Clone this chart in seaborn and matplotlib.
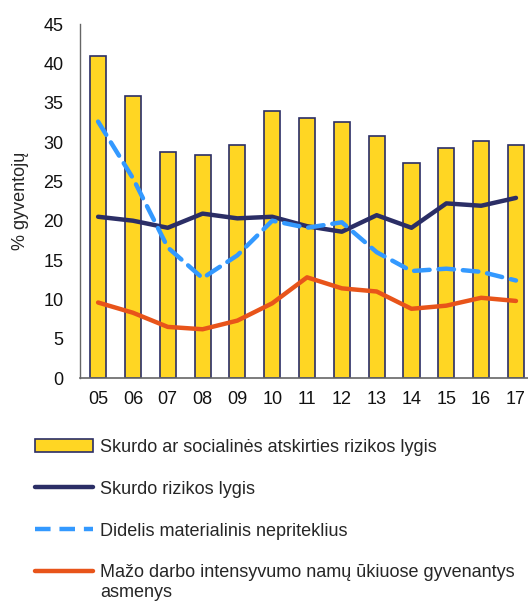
import matplotlib
matplotlib.use("Agg")
import matplotlib.pyplot as plt
import seaborn as sns
import pandas as pd
import numpy as np
from matplotlib.patches import Patch
from matplotlib.lines import Line2D

years = ["05", "06", "07", "08", "09", "10", "11", "12", "13", "14", "15", "16", "17"]
rizikos_atskirties = [41.0, 35.9, 28.7, 28.3, 29.6, 34.0, 33.1, 32.5, 30.8, 27.3, 29.3, 30.1, 29.6]
skurdo_rizikos = [20.5, 20.0, 19.1, 20.9, 20.3, 20.5, 19.3, 18.6, 20.7, 19.1, 22.2, 21.9, 22.9]
materialinis = [32.6, 25.4, 16.6, 12.7, 15.6, 20.0, 19.1, 19.8, 16.0, 13.6, 13.9, 13.5, 12.4]
mazo_darbo = [9.6, 8.3, 6.5, 6.2, 7.3, 9.5, 12.8, 11.4, 11.0, 8.8, 9.2, 10.2, 9.8]

labels = [
    "Skurdo ar socialinės atskirties rizikos lygis",
    "Skurdo rizikos lygis",
    "Didelis materialinis nepriteklius",
    "Mažo darbo intensyvumo namų ūkiuose gyvenantys",
]
label_cont = "asmenys"

yellow = "#FFD623"
navy = "#2B2E66"
lblue = "#3399FF"
orange = "#E8541A"

sns.set_style("white")
plt.rcParams["font.family"] = ["Liberation Sans", "DejaVu Sans"]

df = pd.DataFrame({"year": years, "val": rizikos_atskirties})
pos = np.arange(len(years))

fig = plt.figure(figsize=(5.28, 6.01), dpi=100)
ax = fig.add_axes([0.1515, 0.371, 0.86, 0.589])

sns.barplot(data=df, x="year", y="val", color=yellow, width=0.46,
            edgecolor=navy, linewidth=1.2, saturation=1, ax=ax)
sns.lineplot(x=pos, y=skurdo_rizikos, color=navy, linewidth=3.2, ax=ax)
sns.lineplot(x=pos, y=materialinis, color=lblue, linewidth=3.2, ax=ax)
ax.lines[-1].set_dashes([3.5, 2.0])
ax.lines[-1].set_dash_capstyle("round")
sns.lineplot(x=pos, y=mazo_darbo, color=orange, linewidth=3.2, ax=ax)

ax.set_xlim(-0.52, 12.52)
ax.set_ylim(0, 45)
ax.set_yticks(range(0, 46, 5))
ax.set_xlabel("")
ax.set_ylabel("% gyventojų", fontsize=13, labelpad=10)
ax.tick_params(axis="both", labelsize=13, colors="#111111", length=0)
ax.tick_params(axis="x", pad=9)
ax.tick_params(axis="y", pad=12)
for s in ["top", "right"]:
    ax.spines[s].set_visible(False)
ax.spines["left"].set_color("#666666")
ax.spines["bottom"].set_color("#666666")
ax.spines["left"].set_linewidth(1.0)
ax.spines["bottom"].set_linewidth(1.2)

handles = [
    Patch(facecolor=yellow, edgecolor=navy, linewidth=1.2),
    Line2D([0], [0], color=navy, linewidth=3.2),
    Line2D([0], [0], color=lblue, linewidth=3.2, dashes=[3.5, 2.0]),
    Line2D([0], [0], color=orange, linewidth=3.2),
]
leg = fig.legend(handles, labels, loc="upper left", bbox_to_anchor=(0.066, 0.270),
                 frameon=False, fontsize=13, handlelength=3.2, handletextpad=0.4,
                 labelspacing=1.38, borderaxespad=0, borderpad=0)

fig.canvas.draw()
r = fig.canvas.get_renderer()
bb = leg.get_texts()[-1].get_window_extent(r).transformed(fig.transFigure.inverted())
fig.text(bb.x0, bb.y0 - 0.004, label_cont, fontsize=13, va="top", ha="left")

fig.savefig("out.png", dpi=100)
